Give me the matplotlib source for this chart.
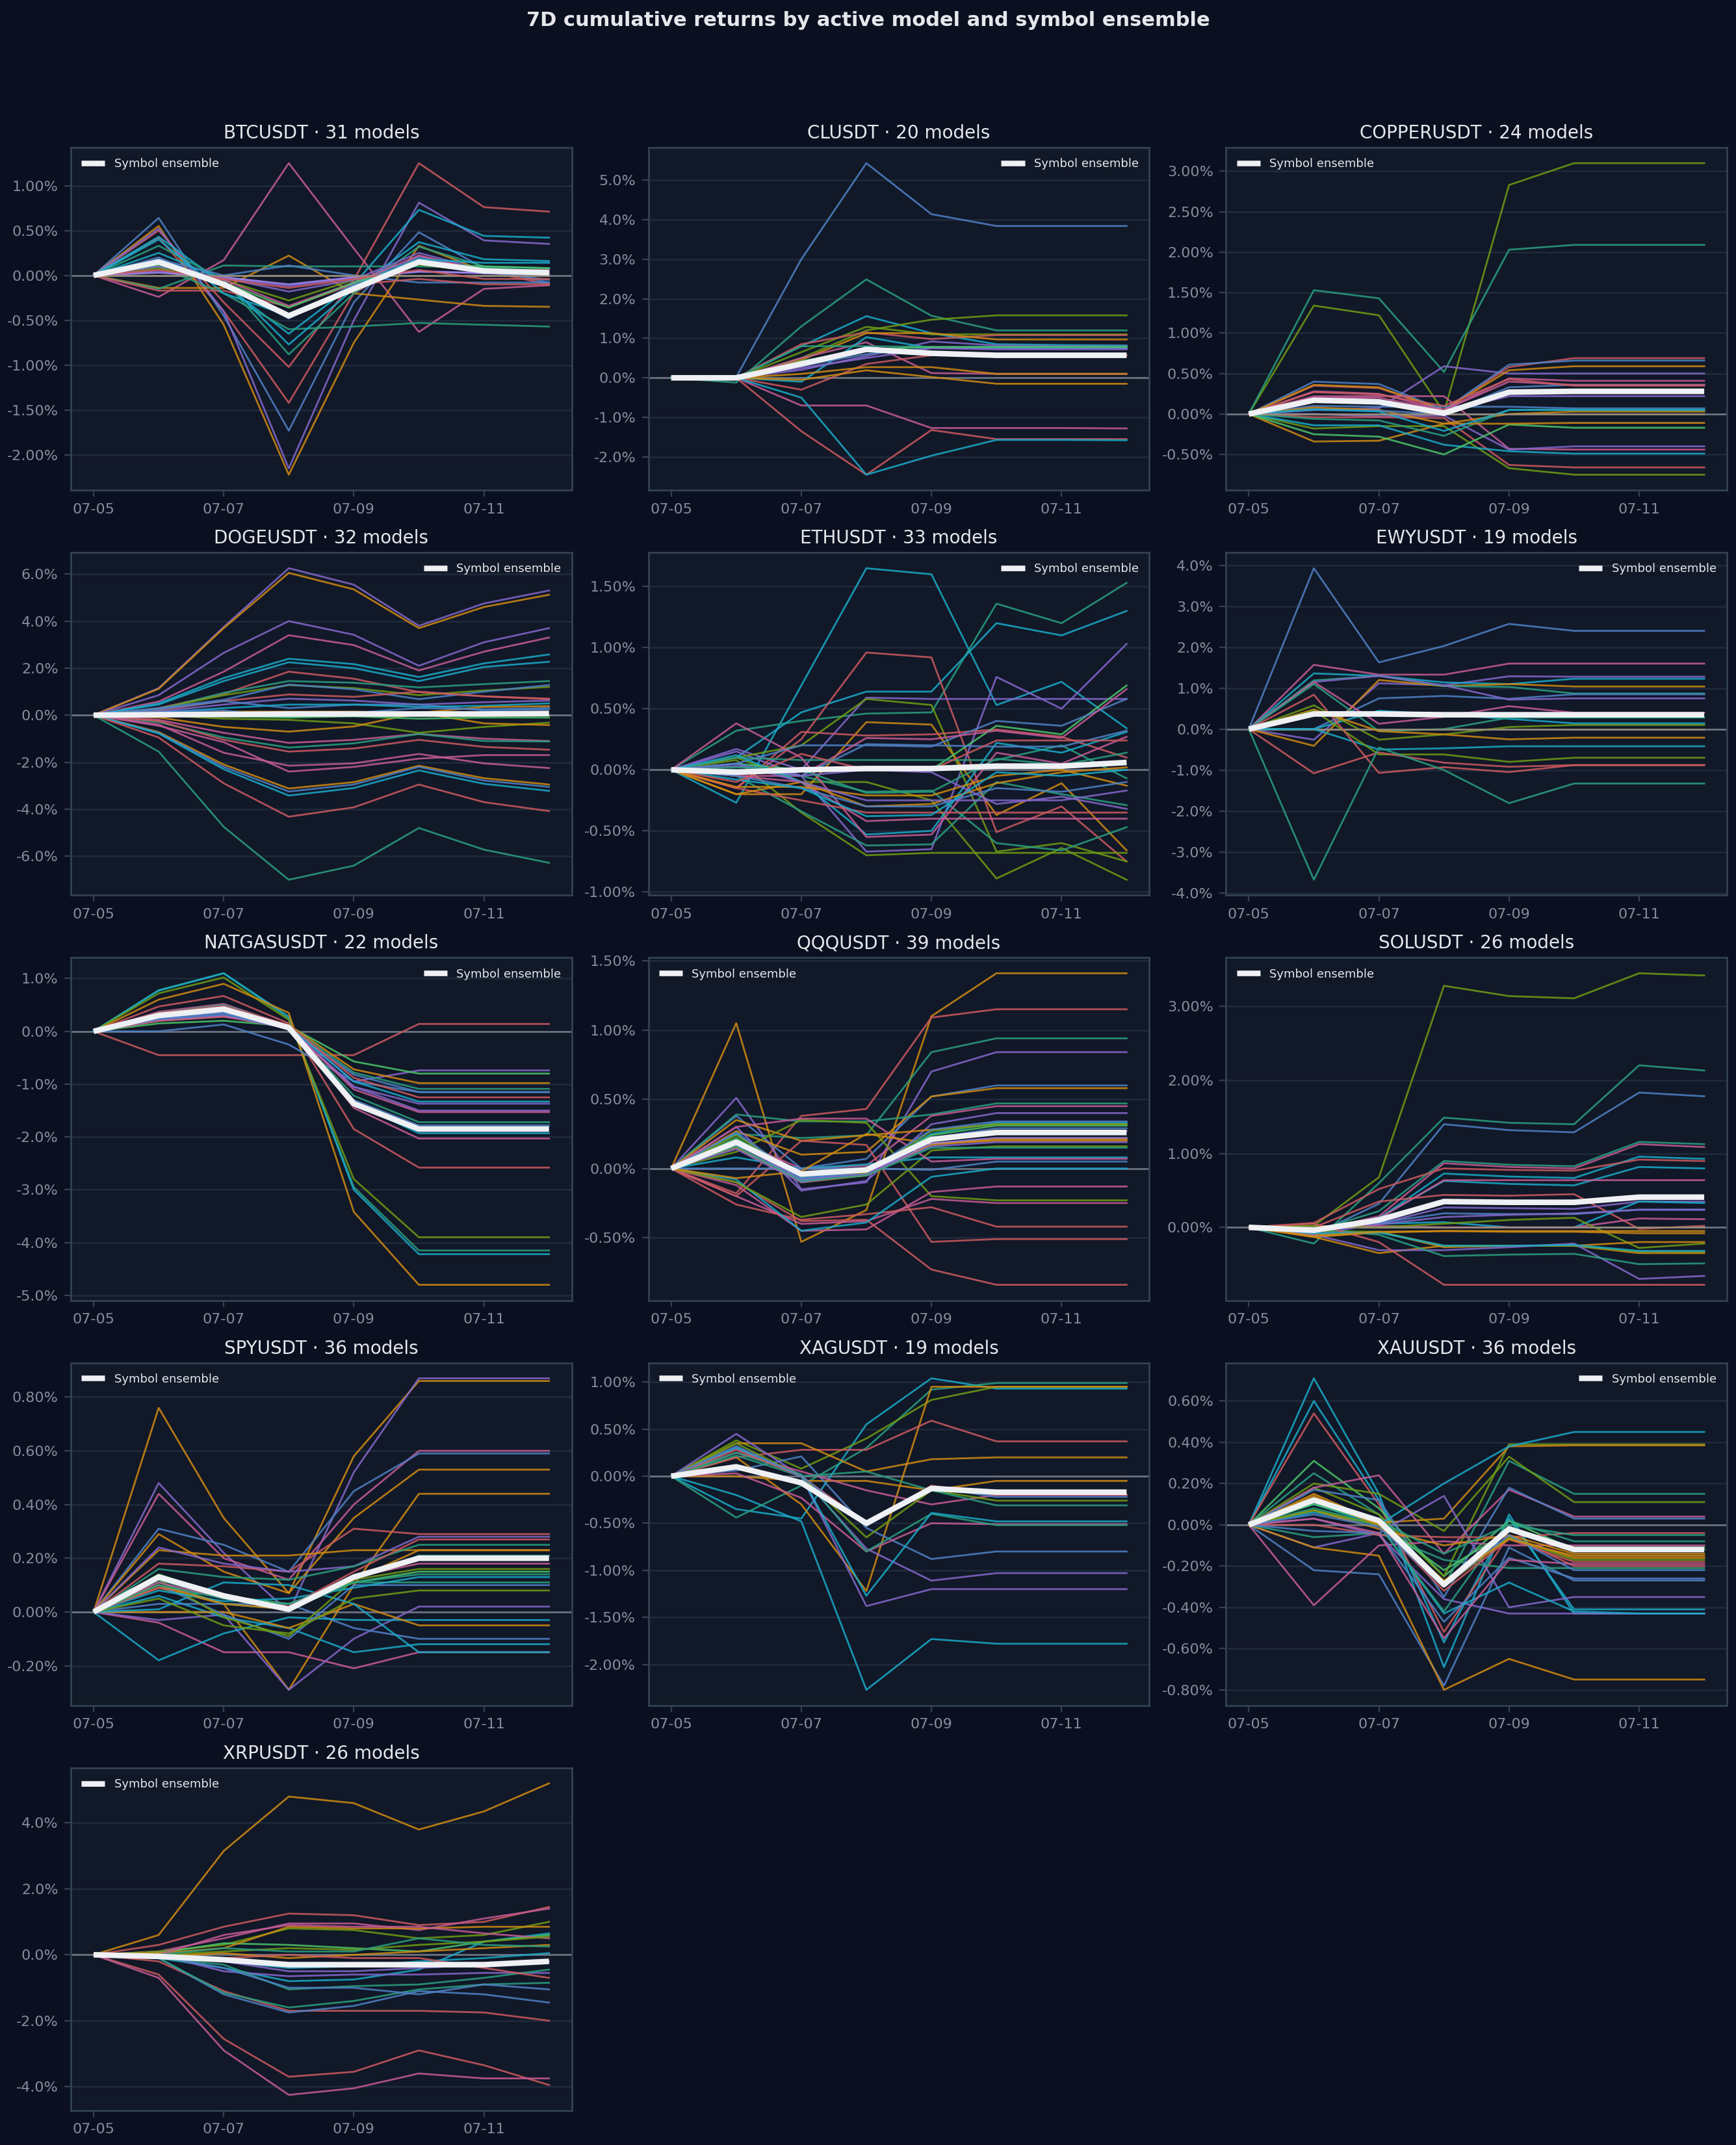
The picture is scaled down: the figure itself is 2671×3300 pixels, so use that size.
import matplotlib
matplotlib.use("Agg")
import matplotlib.pyplot as plt
from matplotlib.ticker import FuncFormatter
import matplotlib.dates as mdates
import pandas as pd

# ---------------- data (cumulative returns, in %) ----------------
DATES = pd.date_range("2025-07-05", periods=8, freq="D")
SYMBOLS = ["BTCUSDT", "CLUSDT", "COPPERUSDT", "DOGEUSDT", "ETHUSDT", "EWYUSDT",
           "NATGASUSDT", "QQQUSDT", "SOLUSDT", "SPYUSDT", "XAGUSDT", "XAUUSDT", "XRPUSDT"]
MODEL_COUNTS = [31, 20, 24, 32, 33, 19, 22, 39, 26, 36, 19, 36, 26]

BTC_ENS = [0, 0.15, -0.10, -0.45, -0.15, 0.15, 0.05, 0.03]
BTC_MODELS = [
    [0, -0.24, 0.17, 1.25, 0.30, -0.63, -0.15, -0.11],
    [0, 0.50, -0.30, -1.02, -0.05, 1.25, 0.76, 0.71],
    [0, 0.42, -0.40, -1.42, -0.20, 0.22, 0.05, -0.10],
    [0, 0.64, -0.45, -1.73, -0.30, 0.48, 0.08, -0.08],
    [0, 0.55, -0.55, -2.22, -0.75, 0.33, 0.05, 0.04],
    [0, 0.52, -0.40, -2.15, -0.50, 0.81, 0.39, 0.35],
    [0, 0.43, -0.10, -0.65, -0.10, 0.73, 0.44, 0.42],
    [0, -0.14, -0.14, 0.22, -0.20, -0.27, -0.34, -0.35],
    [0, -0.15, 0.11, 0.10, 0.10, 0.10, 0.09, 0.08],
    [0, 0.10, -0.20, -0.60, -0.57, -0.53, -0.55, -0.57],
    [0, 0.33, -0.05, -0.88, -0.20, 0.32, 0.10, 0.08],
    [0, 0.25, -0.05, -0.77, -0.15, 0.37, 0.18, 0.16],
    [0, 0.18, 0.00, 0.11, 0.00, -0.08, -0.08, -0.08],
    [0, 0.08, -0.05, -0.28, -0.05, 0.12, 0.04, 0.02],
    [0, 0.05, -0.03, -0.12, -0.03, 0.05, 0.02, 0.01],
    [0, 0.03, -0.02, -0.10, -0.02, 0.04, 0.03, 0.02],
    [0, -0.17, -0.17, -0.35, -0.10, -0.04, -0.10, -0.10],
    [0, 0.15, -0.05, -0.34, -0.08, 0.22, 0.05, 0.06],
    [0, 0.10, -0.03, -0.18, -0.05, 0.25, 0.06, 0.05],
    [0, 0.20, -0.10, -0.48, -0.10, 0.20, 0.04, -0.05],
    [0, 0.12, -0.08, -0.36, -0.08, 0.13, 0.10, 0.08],
    [0, 0.00, 0.00, 0.00, 0.00, 0.00, 0.00, 0.00],
    [0, 0.40, -0.20, -0.45, -0.12, 0.18, 0.14, 0.14],
    [0, 0.06, -0.04, -0.14, -0.04, 0.06, -0.04, -0.04],
]

CL_ENS = [0, 0.0, 0.35, 0.72, 0.62, 0.57, 0.57, 0.57]
CL_MODELS = [
    [0, 0.02, 3.00, 5.43, 4.14, 3.84, 3.84, 3.84],
    [0, -0.12, 1.30, 2.49, 1.57, 1.20, 1.20, 1.20],
    [0, 0.0, 0.80, 1.56, 1.13, 0.85, 0.83, 0.82],
    [0, 0.0, 0.50, 1.20, 1.47, 1.58, 1.58, 1.58],
    [0, 0.0, 0.65, 1.29, 1.10, 1.10, 1.10, 1.10],
    [0, 0.0, 0.85, 1.15, 0.98, 1.08, 1.08, 1.08],
    [0, 0.0, 0.45, 1.13, 1.13, 0.97, 0.97, 0.97],
    [0, 0.0, 0.50, 0.90, 0.12, 0.10, 0.10, 0.10],
    [0, 0.0, 0.20, 0.55, 0.92, 0.82, 0.80, 0.80],
    [0, 0.0, -0.10, 1.03, 0.75, 0.75, 0.75, 0.75],
    [0, 0.0, -0.30, 0.35, 0.57, 0.57, 0.57, 0.57],
    [0, 0.0, 0.10, 0.27, 0.27, 0.10, 0.10, 0.10],
    [0, 0.0, -0.05, 0.19, 0.02, -0.15, -0.15, -0.15],
    [0, 0.0, -0.70, -0.70, -1.27, -1.27, -1.27, -1.28],
    [0, 0.0, -1.35, -2.45, -1.32, -1.55, -1.55, -1.55],
    [0, 0.0, -0.50, -2.45, -1.97, -1.57, -1.57, -1.58],
    [0, 0.0, 0.80, 0.80, 0.78, 0.78, 0.78, 0.78],
    [0, 0.0, 0.30, 0.60, 0.75, 0.75, 0.75, 0.75],
    [0, 0.0, 0.25, 0.50, 0.75, 0.72, 0.72, 0.72],
    [0, 0.0, 0.42, 0.72, 0.78, 0.78, 0.78, 0.78],
]

COPPER_ENS = [0, 0.17, 0.15, 0.01, 0.27, 0.28, 0.28, 0.28]
COPPER_MODELS = [
    [0, 1.34, 1.22, 0.02, 2.83, 3.10, 3.10, 3.10],
    [0, 1.53, 1.43, 0.52, 2.03, 2.09, 2.09, 2.09],
    [0, 0.05, 0.07, 0.59, 0.50, 0.50, 0.50, 0.50],
    [0, 0.35, 0.32, 0.05, 0.58, 0.69, 0.69, 0.69],
    [0, 0.40, 0.37, 0.05, 0.61, 0.66, 0.66, 0.66],
    [0, 0.36, 0.33, 0.05, 0.54, 0.59, 0.59, 0.59],
    [0, 0.28, 0.25, 0.05, 0.44, 0.41, 0.41, 0.41],
    [0, 0.22, 0.22, 0.22, -0.43, -0.44, -0.44, -0.44],
    [0, 0.00, -0.03, -0.02, -0.44, -0.40, -0.40, -0.40],
    [0, -0.04, -0.04, -0.05, -0.63, -0.66, -0.66, -0.66],
    [0, -0.18, -0.15, -0.15, -0.67, -0.75, -0.75, -0.75],
    [0, -0.34, -0.33, -0.12, 0.00, 0.03, 0.03, 0.03],
    [0, -0.14, -0.14, -0.38, -0.46, -0.49, -0.49, -0.49],
    [0, -0.06, -0.08, -0.27, 0.05, 0.05, 0.05, 0.05],
    [0, 0.10, 0.09, 0.09, 0.09, 0.07, 0.07, 0.07],
    [0, -0.25, -0.28, -0.50, -0.13, -0.17, -0.17, -0.17],
    [0, 0.08, 0.05, -0.12, -0.12, -0.11, -0.11, -0.11],
    [0, 0.05, 0.04, 0.00, 0.33, 0.36, 0.36, 0.36],
    [0, 0.15, 0.14, 0.03, 0.22, 0.22, 0.22, 0.22],
    [0, 0.20, 0.20, 0.05, 0.40, 0.36, 0.36, 0.36],
    [0, 0.06, 0.03, -0.21, 0.05, 0.05, 0.05, 0.05],
    [0, 0.00, 0.00, 0.00, 0.00, 0.00, 0.00, 0.00],
    [0, 0.27, 0.24, 0.10, 0.43, 0.35, 0.35, 0.35],
]

DOGE_ENS = [0, 0.02, 0.03, 0.05, 0.05, 0.05, 0.05, 0.07]
DOGE_MODELS = [
    [0, 1.15, 3.75, 6.25, 5.55, 3.80, 4.75, 5.30],
    [0, 1.12, 3.70, 6.05, 5.35, 3.70, 4.60, 5.12],
    [0, 0.85, 2.65, 4.00, 3.42, 2.10, 3.10, 3.70],
    [0, 0.58, 1.85, 3.40, 2.98, 1.90, 2.70, 3.30],
    [0, 0.50, 1.58, 2.40, 2.17, 1.62, 2.20, 2.58],
    [0, 0.45, 1.45, 2.25, 2.00, 1.45, 2.05, 2.27],
    [0, 0.30, 0.90, 1.85, 1.55, 0.98, 0.80, 0.70],
    [0, 0.25, 0.95, 1.45, 1.38, 1.18, 1.32, 1.45],
    [0, 0.28, 0.85, 1.28, 1.15, 0.85, 1.05, 1.20],
    [0, 0.30, 0.65, 1.30, 1.10, 0.68, 1.00, 1.28],
    [0, 0.20, 0.60, 0.88, 0.78, 1.00, 0.80, 0.68],
    [0, 0.15, 0.45, 0.70, 0.62, 0.45, 0.55, 0.62],
    [0, 0.25, 0.60, 0.30, 0.45, 0.45, 0.20, 0.25],
    [0, 0.10, 0.30, 0.45, 0.45, 0.35, 0.40, 0.50],
    [0, 0.05, 0.15, 0.15, 0.15, 0.10, 0.35, 0.38],
    [0, 0.15, 0.20, -0.08, 0.10, 0.30, 0.25, 0.30],
    [0, 0.00, -0.15, -0.20, -0.35, -0.75, -0.50, -0.32],
    [0, -0.10, -0.50, -0.70, -0.48, 0.10, -0.35, -0.42],
    [0, 0.00, -0.05, -0.10, -0.05, -0.15, -0.10, -0.10],
    [0, -0.20, -0.75, -1.18, -1.05, -0.80, -1.00, -1.10],
    [0, -0.30, -0.95, -1.38, -1.20, -0.80, -1.10, -1.12],
    [0, -0.25, -1.05, -1.55, -1.42, -1.05, -1.35, -1.47],
    [0, -0.40, -1.60, -2.15, -2.05, -1.65, -2.05, -2.25],
    [0, -0.45, -1.15, -2.40, -2.20, -1.85, -1.70, -1.70],
    [0, -0.72, -2.10, -3.12, -2.85, -2.15, -2.68, -2.95],
    [0, -0.75, -2.20, -3.25, -2.95, -2.20, -2.78, -3.05],
    [0, -0.78, -2.30, -3.42, -3.10, -2.35, -2.92, -3.22],
    [0, -0.95, -2.90, -4.32, -3.92, -2.95, -3.70, -4.08],
    [0, -1.55, -4.75, -7.00, -6.40, -4.80, -5.72, -6.28],
    [0, 0.00, 0.00, 0.00, 0.00, 0.00, 0.00, 0.00],
]

ETH_ENS = [0, -0.02, 0.0, 0.01, 0.01, 0.03, 0.03, 0.06]
ETH_MODELS = [
    [0, -0.27, 0.69, 1.65, 1.60, 0.53, 0.72, 0.34],
    [0, 0.32, 0.40, 0.46, 0.47, 1.36, 1.20, 1.53],
    [0, 0.10, 0.47, 0.64, 0.64, 1.20, 1.10, 1.30],
    [0, -0.15, 0.25, 0.96, 0.92, -0.51, -0.30, -0.75],
    [0, 0.15, -0.05, -0.67, -0.65, 0.76, 0.50, 1.03],
    [0, 0.17, 0.00, 0.59, 0.58, 0.58, 0.58, 0.58],
    [0, 0.10, 0.20, 0.58, 0.53, -0.67, -0.60, -0.75],
    [0, 0.08, -0.35, -0.70, -0.68, -0.68, -0.68, -0.68],
    [0, 0.10, -0.10, -0.10, -0.25, -0.89, -0.64, -0.90],
    [0, -0.20, -0.20, 0.39, 0.37, -0.37, -0.11, -0.66],
    [0, -0.15, 0.31, 0.28, 0.29, 0.33, 0.27, 0.10],
    [0, 0.05, 0.00, 0.00, 0.00, 0.36, 0.29, 0.69],
    [0, 0.05, 0.20, 0.20, 0.19, 0.40, 0.36, 0.58],
    [0, -0.05, -0.05, 0.26, 0.25, 0.32, 0.26, 0.66],
    [0, 0.10, 0.08, 0.08, 0.08, 0.08, 0.20, -0.07],
    [0, -0.05, -0.34, -0.62, -0.61, -0.10, -0.20, -0.29],
    [0, 0.00, -0.05, -0.18, -0.17, -0.60, -0.66, -0.47],
    [0, 0.12, -0.10, -0.53, -0.50, 0.22, 0.14, 0.31],
    [0, 0.38, 0.10, -0.55, -0.53, 0.14, 0.05, 0.27],
    [0, -0.05, -0.10, -0.42, -0.40, -0.40, -0.40, -0.40],
    [0, -0.15, -0.25, -0.35, -0.35, -0.35, -0.35, -0.35],
    [0, -0.14, -0.14, -0.21, -0.21, -0.05, 0.00, -0.13],
    [0, -0.20, -0.10, -0.30, -0.28, -0.11, -0.02, 0.02],
    [0, -0.05, -0.15, -0.30, -0.30, -0.15, -0.18, -0.10],
    [0, 0.05, -0.10, -0.25, -0.25, -0.25, -0.25, -0.17],
    [0, 0.05, -0.05, 0.21, 0.20, 0.19, 0.19, 0.32],
    [0, 0.03, -0.05, 0.00, -0.02, -0.28, -0.22, -0.32],
    [0, -0.08, -0.15, -0.38, -0.37, -0.02, -0.05, 0.00],
    [0, -0.10, 0.13, 0.00, 0.00, 0.24, 0.24, 0.24],
    [0, 0.02, 0.00, -0.19, -0.18, 0.09, 0.04, 0.14],
]

EWY_ENS = [0, 0.37, 0.37, 0.35, 0.35, 0.35, 0.35, 0.35]
EWY_MODELS = [
    [0, 3.93, 1.63, 2.03, 2.57, 2.40, 2.40, 2.40],
    [0, 1.57, 1.33, 1.33, 1.60, 1.60, 1.60, 1.60],
    [0, -0.26, 1.12, 1.07, 1.29, 1.28, 1.28, 1.28],
    [0, 1.36, 1.30, 1.14, 1.10, 1.23, 1.23, 1.23],
    [0, -0.41, 1.20, 1.05, 1.10, 1.04, 1.04, 1.04],
    [0, 1.19, 1.30, 1.05, 1.03, 0.87, 0.87, 0.87],
    [0, 0.00, 0.75, 0.81, 0.74, 0.85, 0.85, 0.85],
    [0, 1.15, 1.30, 1.07, 0.72, 0.75, 0.75, 0.75],
    [0, 1.15, 0.13, 0.30, 0.56, 0.40, 0.40, 0.40],
    [0, 0.00, 0.45, 0.35, 0.25, 0.14, 0.14, 0.14],
    [0, 1.10, -0.05, 0.00, 0.28, 0.28, 0.28, 0.28],
    [0, 0.58, -0.26, -0.13, 0.05, 0.10, 0.10, 0.10],
    [0, 0.00, 0.00, 0.00, 0.00, 0.00, 0.00, 0.00],
    [0, 0.48, -0.05, -0.13, -0.25, -0.21, -0.21, -0.21],
    [0, 0.00, -0.50, -0.47, -0.42, -0.42, -0.42, -0.42],
    [0, 0.45, -0.62, -0.62, -0.80, -0.70, -0.70, -0.70],
    [0, 0.84, -1.07, -0.93, -1.05, -0.88, -0.88, -0.88],
    [0, -1.08, -0.57, -0.82, -0.92, -0.88, -0.88, -0.88],
    [0, -3.68, -0.45, -1.00, -1.81, -1.33, -1.33, -1.33],
]

NATGAS_ENS = [0, 0.30, 0.42, 0.07, -1.37, -1.85, -1.85, -1.85]
NATGAS_MODELS = [
    [0, -0.45, -0.45, -0.45, -0.45, 0.14, 0.14, 0.14],
    [0, 0.78, 1.10, 0.25, -2.95, -4.15, -4.15, -4.15],
    [0, 0.77, 1.10, 0.28, -3.00, -4.22, -4.22, -4.22],
    [0, 0.72, 1.02, 0.22, -2.80, -3.90, -3.90, -3.90],
    [0, 0.60, 0.90, 0.35, -3.42, -4.80, -4.80, -4.80],
    [0, 0.47, 0.67, 0.15, -1.85, -2.58, -2.58, -2.58],
    [0, 0.37, 0.52, 0.10, -1.45, -2.03, -2.03, -2.03],
    [0, 0.00, 0.13, -0.25, -0.95, -1.15, -1.15, -1.15],
    [0, 0.25, 0.35, 0.10, -0.95, -0.74, -0.74, -0.74],
    [0, 0.15, 0.20, 0.10, -0.57, -0.80, -0.80, -0.80],
    [0, 0.20, 0.28, 0.12, -0.72, -0.98, -0.98, -0.98],
    [0, 0.35, 0.50, 0.10, -0.78, -1.09, -1.09, -1.09],
    [0, 0.25, 0.35, 0.05, -0.82, -1.15, -1.15, -1.15],
    [0, 0.35, 0.48, 0.12, -0.88, -1.25, -1.25, -1.25],
    [0, 0.30, 0.45, 0.08, -0.95, -1.33, -1.33, -1.33],
    [0, 0.28, 0.40, 0.07, -1.05, -1.37, -1.37, -1.37],
    [0, 0.22, 0.30, 0.05, -1.05, -1.50, -1.50, -1.50],
    [0, 0.20, 0.28, 0.07, -1.10, -1.53, -1.53, -1.53],
    [0, 0.30, 0.42, 0.07, -1.22, -1.72, -1.72, -1.72],
    [0, 0.23, 0.32, 0.05, -1.30, -1.78, -1.78, -1.78],
    [0, 0.28, 0.40, 0.06, -1.35, -1.93, -1.93, -1.93],
]

QQQ_ENS = [0, 0.19, -0.04, -0.01, 0.21, 0.26, 0.26, 0.26]
QQQ_MODELS = [
    [0, 1.05, -0.53, -0.30, 1.10, 1.41, 1.41, 1.41],
    [0, -0.18, 0.38, 0.43, 1.09, 1.15, 1.15, 1.15],
    [0, 0.25, 0.22, 0.24, 0.84, 0.94, 0.94, 0.94],
    [0, 0.51, -0.15, -0.10, 0.70, 0.84, 0.84, 0.84],
    [0, 0.38, 0.00, 0.07, 0.52, 0.60, 0.60, 0.60],
    [0, 0.27, 0.10, 0.12, 0.52, 0.58, 0.58, 0.58],
    [0, 0.39, 0.34, 0.34, 0.39, 0.47, 0.47, 0.47],
    [0, 0.20, 0.00, 0.02, 0.38, 0.45, 0.45, 0.45],
    [0, 0.30, -0.16, -0.09, 0.32, 0.40, 0.40, 0.40],
    [0, 0.35, 0.20, 0.24, 0.28, 0.32, 0.32, 0.32],
    [0, 0.12, 0.35, 0.33, -0.20, -0.23, -0.23, -0.23],
    [0, -0.20, -0.40, -0.38, -0.22, -0.25, -0.25, -0.25],
    [0, -0.12, -0.45, -0.44, -0.17, -0.13, -0.13, -0.13],
    [0, -0.26, -0.37, -0.33, -0.28, -0.42, -0.42, -0.42],
    [0, -0.20, 0.20, 0.17, -0.53, -0.51, -0.51, -0.51],
    [0, -0.10, -0.38, -0.37, -0.73, -0.84, -0.84, -0.84],
    [0, -0.08, -0.45, -0.39, -0.06, 0.00, 0.00, 0.00],
    [0, -0.10, -0.35, -0.26, 0.13, 0.16, 0.16, 0.16],
    [0, 0.08, 0.00, 0.03, 0.08, 0.08, 0.08, 0.08],
    [0, 0.00, 0.00, 0.00, -0.01, 0.05, 0.05, 0.05],
    [0, 0.30, 0.36, 0.36, 0.05, 0.07, 0.07, 0.07],
    [0, -0.07, -0.02, 0.25, 0.18, 0.20, 0.20, 0.20],
    [0, 0.25, -0.08, -0.03, 0.25, 0.33, 0.33, 0.33],
    [0, 0.22, -0.06, -0.02, 0.24, 0.31, 0.31, 0.31],
    [0, 0.20, -0.07, -0.03, 0.22, 0.29, 0.29, 0.29],
    [0, 0.18, -0.08, -0.04, 0.20, 0.27, 0.27, 0.27],
    [0, 0.16, -0.09, -0.05, 0.18, 0.22, 0.22, 0.22],
    [0, 0.15, -0.10, -0.05, 0.17, 0.21, 0.21, 0.21],
    [0, 0.14, -0.10, -0.04, 0.16, 0.19, 0.19, 0.19],
    [0, 0.16, -0.09, -0.05, 0.15, 0.15, 0.15, 0.15],
    [0, 0.24, -0.05, -0.03, 0.27, 0.32, 0.32, 0.32],
    [0, 0.26, -0.07, -0.02, 0.28, 0.34, 0.34, 0.34],
]

SOL_ENS = [0, -0.04, 0.10, 0.35, 0.34, 0.34, 0.41, 0.41]
SOL_MODELS = [
    [0, 0.02, 0.68, 3.28, 3.14, 3.11, 3.45, 3.42],
    [0, -0.22, 0.60, 1.49, 1.42, 1.40, 2.20, 2.13],
    [0, -0.10, 0.32, 1.40, 1.32, 1.29, 1.83, 1.78],
    [0, -0.05, 0.22, 0.90, 0.85, 0.83, 1.16, 1.13],
    [0, -0.05, 0.15, 0.87, 0.82, 0.80, 1.13, 1.09],
    [0, -0.05, 0.12, 0.73, 0.69, 0.67, 0.96, 0.93],
    [0, 0.06, 0.52, 0.80, 0.78, 0.77, 0.92, 0.90],
    [0, -0.05, 0.13, 0.63, 0.59, 0.57, 0.82, 0.80],
    [0, -0.05, 0.12, 0.64, 0.64, 0.64, 0.64, 0.64],
    [0, 0.00, 0.35, 0.44, 0.43, 0.45, -0.02, 0.02],
    [0, -0.10, 0.05, 0.27, 0.26, 0.25, 0.35, 0.35],
    [0, -0.05, 0.05, 0.07, 0.00, 0.00, 0.35, 0.33],
    [0, -0.05, 0.06, 0.19, 0.18, 0.18, 0.24, 0.24],
    [0, -0.05, 0.04, 0.14, 0.17, 0.19, 0.24, 0.24],
    [0, 0.00, 0.02, 0.00, 0.00, 0.00, 0.12, 0.11],
    [0, 0.02, 0.00, 0.05, 0.10, 0.13, -0.28, -0.22],
    [0, -0.13, -0.07, -0.05, -0.05, -0.05, -0.05, -0.05],
    [0, -0.13, -0.35, -0.25, -0.25, -0.25, -0.20, -0.20],
    [0, -0.10, -0.06, -0.27, -0.25, -0.25, -0.35, -0.35],
    [0, -0.05, -0.06, -0.25, -0.25, -0.25, -0.33, -0.33],
    [0, -0.10, -0.31, -0.31, -0.27, -0.22, -0.70, -0.66],
    [0, -0.02, -0.10, -0.39, -0.37, -0.36, -0.50, -0.49],
    [0, 0.05, -0.20, -0.78, -0.78, -0.78, -0.78, -0.78],
    [0, -0.08, -0.07, -0.25, -0.25, -0.24, -0.32, -0.32],
    [0, -0.12, -0.06, -0.05, -0.06, -0.06, -0.08, -0.08],
    [0, 0.00, 0.00, 0.00, 0.00, 0.00, 0.00, 0.00],
]

SPY_ENS = [0, 0.13, 0.06, 0.01, 0.13, 0.20, 0.20, 0.20]
SPY_MODELS = [
    [0, 0.76, 0.35, 0.07, 0.58, 0.86, 0.86, 0.86],
    [0, 0.48, 0.22, 0.00, 0.52, 0.87, 0.87, 0.87],
    [0, 0.44, 0.20, 0.12, 0.40, 0.60, 0.60, 0.60],
    [0, 0.31, 0.25, 0.15, 0.45, 0.59, 0.59, 0.59],
    [0, 0.29, 0.15, 0.07, 0.35, 0.53, 0.53, 0.53],
    [0, 0.09, 0.03, -0.29, 0.10, 0.44, 0.44, 0.44],
    [0, 0.18, 0.17, 0.15, 0.31, 0.29, 0.29, 0.29],
    [0, 0.23, 0.21, 0.21, 0.23, 0.23, 0.23, 0.23],
    [0, 0.24, 0.18, 0.15, 0.17, 0.28, 0.28, 0.28],
    [0, 0.16, 0.13, 0.12, 0.17, 0.25, 0.25, 0.25],
    [0, -0.04, -0.15, -0.15, -0.21, -0.15, -0.15, -0.15],
    [0, -0.03, -0.01, -0.29, -0.10, 0.02, 0.02, 0.02],
    [0, 0.06, -0.02, -0.06, -0.15, -0.12, -0.12, -0.12],
    [0, 0.03, 0.03, 0.03, -0.06, -0.10, -0.10, -0.10],
    [0, -0.18, -0.08, -0.02, -0.03, -0.03, -0.03, -0.03],
    [0, 0.00, 0.00, -0.06, 0.03, -0.05, -0.05, -0.05],
    [0, 0.01, 0.11, 0.10, 0.03, -0.15, -0.15, -0.15],
    [0, 0.10, -0.01, -0.10, 0.10, 0.10, 0.10, 0.10],
    [0, 0.12, -0.02, -0.09, 0.12, 0.16, 0.16, 0.16],
    [0, 0.05, -0.05, -0.08, 0.05, 0.08, 0.08, 0.08],
    [0, 0.11, 0.03, 0.01, 0.11, 0.11, 0.11, 0.11],
    [0, 0.14, 0.06, 0.03, 0.11, 0.15, 0.15, 0.15],
    [0, 0.08, 0.04, 0.05, 0.09, 0.13, 0.13, 0.13],
    [0, 0.09, 0.06, 0.02, 0.15, 0.27, 0.27, 0.27],
    [0, 0.12, 0.05, 0.03, 0.12, 0.21, 0.21, 0.21],
    [0, 0.11, 0.05, 0.02, 0.13, 0.18, 0.18, 0.18],
    [0, 0.10, 0.03, 0.01, 0.12, 0.23, 0.23, 0.23],
    [0, 0.10, 0.05, 0.01, 0.11, 0.14, 0.14, 0.14],
]

XAG_ENS = [0, 0.10, -0.07, -0.50, -0.13, -0.17, -0.17, -0.17]
XAG_MODELS = [
    [0, -0.20, -0.48, -2.27, -1.73, -1.78, -1.78, -1.78],
    [0, -0.35, -0.45, 0.55, 1.04, 0.93, 0.93, 0.93],
    [0, -0.44, -0.10, 0.30, 0.92, 0.99, 0.99, 0.99],
    [0, 0.38, 0.08, 0.40, 0.81, 0.95, 0.95, 0.95],
    [0, 0.20, -0.30, -1.22, 0.95, 0.95, 0.95, 0.95],
    [0, 0.20, 0.28, 0.28, 0.59, 0.37, 0.37, 0.37],
    [0, 0.35, 0.35, 0.05, 0.18, 0.20, 0.20, 0.20],
    [0, 0.00, -0.05, -0.05, -0.15, -0.05, -0.05, -0.05],
    [0, 0.06, 0.21, -0.55, -0.88, -0.80, -0.80, -0.80],
    [0, 0.45, 0.00, -0.77, -1.11, -1.03, -1.03, -1.03],
    [0, 0.30, 0.00, -1.38, -1.20, -1.20, -1.20, -1.20],
    [0, 0.03, -0.23, -0.80, -0.50, -0.51, -0.51, -0.51],
    [0, 0.25, 0.05, -0.15, -0.30, -0.20, -0.20, -0.20],
    [0, 0.25, 0.02, -0.80, -0.40, -0.52, -0.52, -0.52],
    [0, 0.30, 0.00, -1.27, -0.39, -0.48, -0.48, -0.48],
    [0, 0.35, 0.00, -0.65, -0.15, -0.26, -0.26, -0.26],
    [0, 0.22, 0.00, 0.05, -0.15, -0.31, -0.31, -0.31],
    [0, 0.28, 0.00, -0.50, -0.10, -0.20, -0.20, -0.20],
    [0, 0.32, 0.00, -0.53, -0.12, -0.22, -0.22, -0.22],
]

XAU_ENS = [0, 0.12, 0.02, -0.29, -0.02, -0.12, -0.12, -0.12]
XAU_MODELS = [
    [0, 0.71, 0.15, -0.69, 0.05, -0.43, -0.43, -0.43],
    [0, 0.60, 0.12, -0.57, 0.03, -0.41, -0.41, -0.41],
    [0, 0.54, 0.10, -0.52, -0.05, -0.20, -0.20, -0.20],
    [0, 0.31, 0.08, -0.25, 0.02, -0.12, -0.12, -0.12],
    [0, 0.25, 0.05, -0.30, 0.31, 0.15, 0.15, 0.15],
    [0, 0.20, 0.15, -0.03, 0.33, 0.11, 0.11, 0.11],
    [0, 0.18, 0.05, -0.25, 0.39, 0.39, 0.39, 0.39],
    [0, 0.15, 0.01, 0.03, 0.38, 0.385, 0.385, 0.385],
    [0, 0.10, 0.00, 0.20, 0.38, 0.45, 0.45, 0.45],
    [0, 0.18, 0.24, -0.14, 0.17, 0.04, 0.04, 0.04],
    [0, 0.17, 0.12, -0.35, 0.18, 0.03, 0.03, 0.03],
    [0, -0.11, -0.04, 0.14, -0.40, -0.35, -0.35, -0.35],
    [0, 0.03, -0.05, -0.36, -0.43, -0.43, -0.43, -0.43],
    [0, -0.22, -0.24, -0.78, -0.11, -0.27, -0.27, -0.27],
    [0, -0.11, -0.15, -0.80, -0.65, -0.75, -0.75, -0.75],
    [0, -0.39, -0.10, -0.08, -0.10, -0.10, -0.10, -0.10],
    [0, -0.06, -0.04, -0.17, -0.21, -0.21, -0.21, -0.21],
    [0, 0.06, 0.00, -0.43, -0.28, -0.42, -0.43, -0.43],
    [0, 0.00, -0.05, -0.06, -0.06, -0.04, -0.04, -0.04],
    [0, -0.03, -0.04, -0.47, -0.16, -0.26, -0.26, -0.26],
    [0, 0.08, 0.00, -0.42, 0.02, -0.08, -0.08, -0.08],
    [0, 0.07, -0.02, -0.10, -0.05, -0.14, -0.14, -0.14],
    [0, 0.14, 0.00, -0.30, -0.06, -0.16, -0.16, -0.16],
    [0, 0.03, -0.04, -0.55, -0.17, -0.19, -0.19, -0.19],
    [0, 0.13, 0.00, -0.32, -0.07, -0.18, -0.18, -0.18],
    [0, 0.07, 0.00, -0.28, -0.06, -0.17, -0.17, -0.17],
    [0, 0.10, 0.01, -0.22, -0.03, -0.11, -0.11, -0.11],
    [0, 0.12, 0.02, -0.14, 0.00, -0.05, -0.05, -0.05],
    [0, 0.05, -0.01, -0.30, -0.05, -0.22, -0.22, -0.22],
    [0, 0.12, 0.00, -0.27, -0.07, -0.15, -0.15, -0.15],
]

XRP_ENS = [0, -0.05, -0.15, -0.30, -0.30, -0.30, -0.30, -0.20]
XRP_MODELS = [
    [0, 0.60, 3.15, 4.80, 4.60, 3.80, 4.35, 5.20],
    [0, -0.60, -2.55, -3.70, -3.55, -2.90, -3.35, -3.95],
    [0, -0.70, -2.90, -4.25, -4.05, -3.60, -3.75, -3.75],
    [0, 0.30, 0.85, 1.25, 1.20, 0.90, 1.00, 1.45],
    [0, 0.10, 0.50, 0.95, 0.95, 0.75, 1.10, 1.40],
    [0, 0.10, 0.30, 0.80, 0.75, 0.50, 0.60, 1.00],
    [0, -0.10, -0.40, -0.80, -0.75, -0.45, 0.40, 0.65],
    [0, -0.20, -1.10, -1.70, -1.70, -1.70, -1.75, -2.00],
    [0, -0.10, -1.20, -1.75, -1.55, -1.10, -1.20, -1.45],
    [0, -0.10, -1.15, -1.60, -1.40, -1.05, -0.90, -0.85],
    [0, 0.00, -0.50, -0.65, -0.60, -0.60, -0.55, -0.55],
    [0, 0.05, 0.35, 0.30, 0.20, 0.10, 0.40, 0.60],
    [0, 0.05, 0.20, 0.85, 0.80, 0.80, 0.85, 0.85],
    [0, -0.10, -0.30, -1.05, -0.95, -0.90, -0.70, -0.45],
    [0, -0.05, -0.40, -1.00, -1.00, -1.20, -0.90, -1.05],
    [0, 0.00, 0.60, 0.90, 0.85, 0.85, 0.65, 0.50],
    [0, 0.00, -0.20, -0.40, -0.35, -0.20, -0.10, 0.05],
    [0, 0.00, 0.10, 0.20, 0.15, 0.30, 0.40, 0.55],
    [0, -0.05, 0.05, -0.10, 0.00, 0.10, 0.20, 0.30],
    [0, -0.05, -0.20, -0.50, -0.50, -0.40, -0.30, -0.20],
    [0, 0.00, 0.20, 0.10, 0.10, 0.50, 0.30, 0.25],
    [0, 0.00, -0.10, 0.00, -0.10, -0.10, -0.40, -0.70],
]

MODELS = [BTC_MODELS, CL_MODELS, COPPER_MODELS, DOGE_MODELS, ETH_MODELS, EWY_MODELS,
          NATGAS_MODELS, QQQ_MODELS, SOL_MODELS, SPY_MODELS, XAG_MODELS, XAU_MODELS, XRP_MODELS]
ENSEMBLES = [BTC_ENS, CL_ENS, COPPER_ENS, DOGE_ENS, ETH_ENS, EWY_ENS,
             NATGAS_ENS, QQQ_ENS, SOL_ENS, SPY_ENS, XAG_ENS, XAU_ENS, XRP_ENS]

# ---------------- styling ----------------
PALETTE = {
    "b": "#4f82c6", "o": "#d08a12", "t": "#2a9f80", "r": "#cc5a60",
    "p": "#8468cc", "c": "#1aaac8", "g": "#6f9c14", "k": "#c65c96",
    "n": "#4cc46a", "l": "#a78bfa", "a": "#9a8f78",
}
LINE_COLORS = [
    "krrbopcotttcbgplrkpbnacr",
    "btcggrokpcrookrctbpn",
    "gtprbokkprgoctbnobpkcar",
    "popkccrtgbrpbcobgonktrkkobcrta",
    "ctcrppgggornbktttckkroobpbpcrt",
    "bkpcotbpkctgaocgrrt",
    "rtcgorkbpnotbrcppktbc",
    "ortpbotkpogkkrrrcgcbkocnbploptgbc",
    "gtbtkcrckrpcbpkgooogptrcoa",
    "opkbooroptkpcbcocbggtncrtkotb",
    "cctgoroobppkktcgtrb",
    "ccrntggockbppbioktcrbtookrgntbo".replace("i", ""),
    "orkrkgcrbtpnotbkcgoptr",
]
LEGEND_LOCS = ["upper left", "upper right", "upper left", "upper right", "upper right",
               "upper right", "upper right", "upper left", "upper left", "upper left",
               "upper left", "upper right", "upper left"]

FIG_BG = "#0b1020"
AX_BG = "#111827"
SPINE = "#334155"
GRID = "#1e293b"
TICK = "#858d9c"
TITLE = "#e5e7eb"
ENS = "#eef0f3"

plt.rcParams["font.family"] = ["DejaVu Sans"]

fig, axes = plt.subplots(5, 3, figsize=(2671 / 200, 3300 / 200), dpi=200)
fig.patch.set_facecolor(FIG_BG)
fig.subplots_adjust(left=0.0408, right=0.9948, top=0.9312, bottom=0.0161,
                    wspace=0.153, hspace=0.182)
fig.suptitle("7D cumulative returns by active model and symbol ensemble",
             color=TITLE, fontsize=11, fontweight="bold", y=1 - 31 / 3300, va="center")

flat = axes.ravel()
for i, sym in enumerate(SYMBOLS):
    ax = flat[i]
    ax.set_facecolor(AX_BG)
    models = MODELS[i]
    codes = LINE_COLORS[i]
    for j, series in enumerate(models):
        col = PALETTE[codes[j % len(codes)]]
        ax.plot(DATES, series, color=col, lw=1.0, alpha=0.85, zorder=2)
    ax.axhline(0, color="#6b7280", lw=1.0, zorder=1.5)
    ens_line, = ax.plot(DATES, ENSEMBLES[i], color=ENS, lw=3.1, zorder=5,
                        solid_capstyle="butt", label="Symbol ensemble")
    ax.set_title(f"{sym} · {MODEL_COUNTS[i]} models", color=TITLE, fontsize=10, pad=5)

    allv = [v for s in models for v in s] + list(ENSEMBLES[i])
    rng = max(allv) - min(allv)
    dec = 1 if rng > 5 else 2
    ax.yaxis.set_major_formatter(FuncFormatter(lambda v, p, d=dec: f"{v:.{d}f}%"))
    ax.set_xticks(DATES[:-1:2])
    ax.xaxis.set_major_formatter(mdates.DateFormatter("%m-%d"))

    ax.grid(axis="y", color=GRID, lw=1.0, zorder=0)
    ax.grid(axis="x", visible=False)
    ax.set_axisbelow(True)
    for sp in ax.spines.values():
        sp.set_color(SPINE)
        sp.set_linewidth(1.0)
    ax.tick_params(colors=TICK, labelsize=8, length=3.5, width=0.8)
    ax.tick_params(axis="both", color=SPINE)

    ax.legend(handles=[ens_line], loc=LEGEND_LOCS[i], frameon=False,
              fontsize=6.5, labelcolor=TITLE, handlelength=2.0)

for ax in flat[len(SYMBOLS):]:
    ax.remove()

fig.savefig("out.png", dpi=200, facecolor=FIG_BG)
